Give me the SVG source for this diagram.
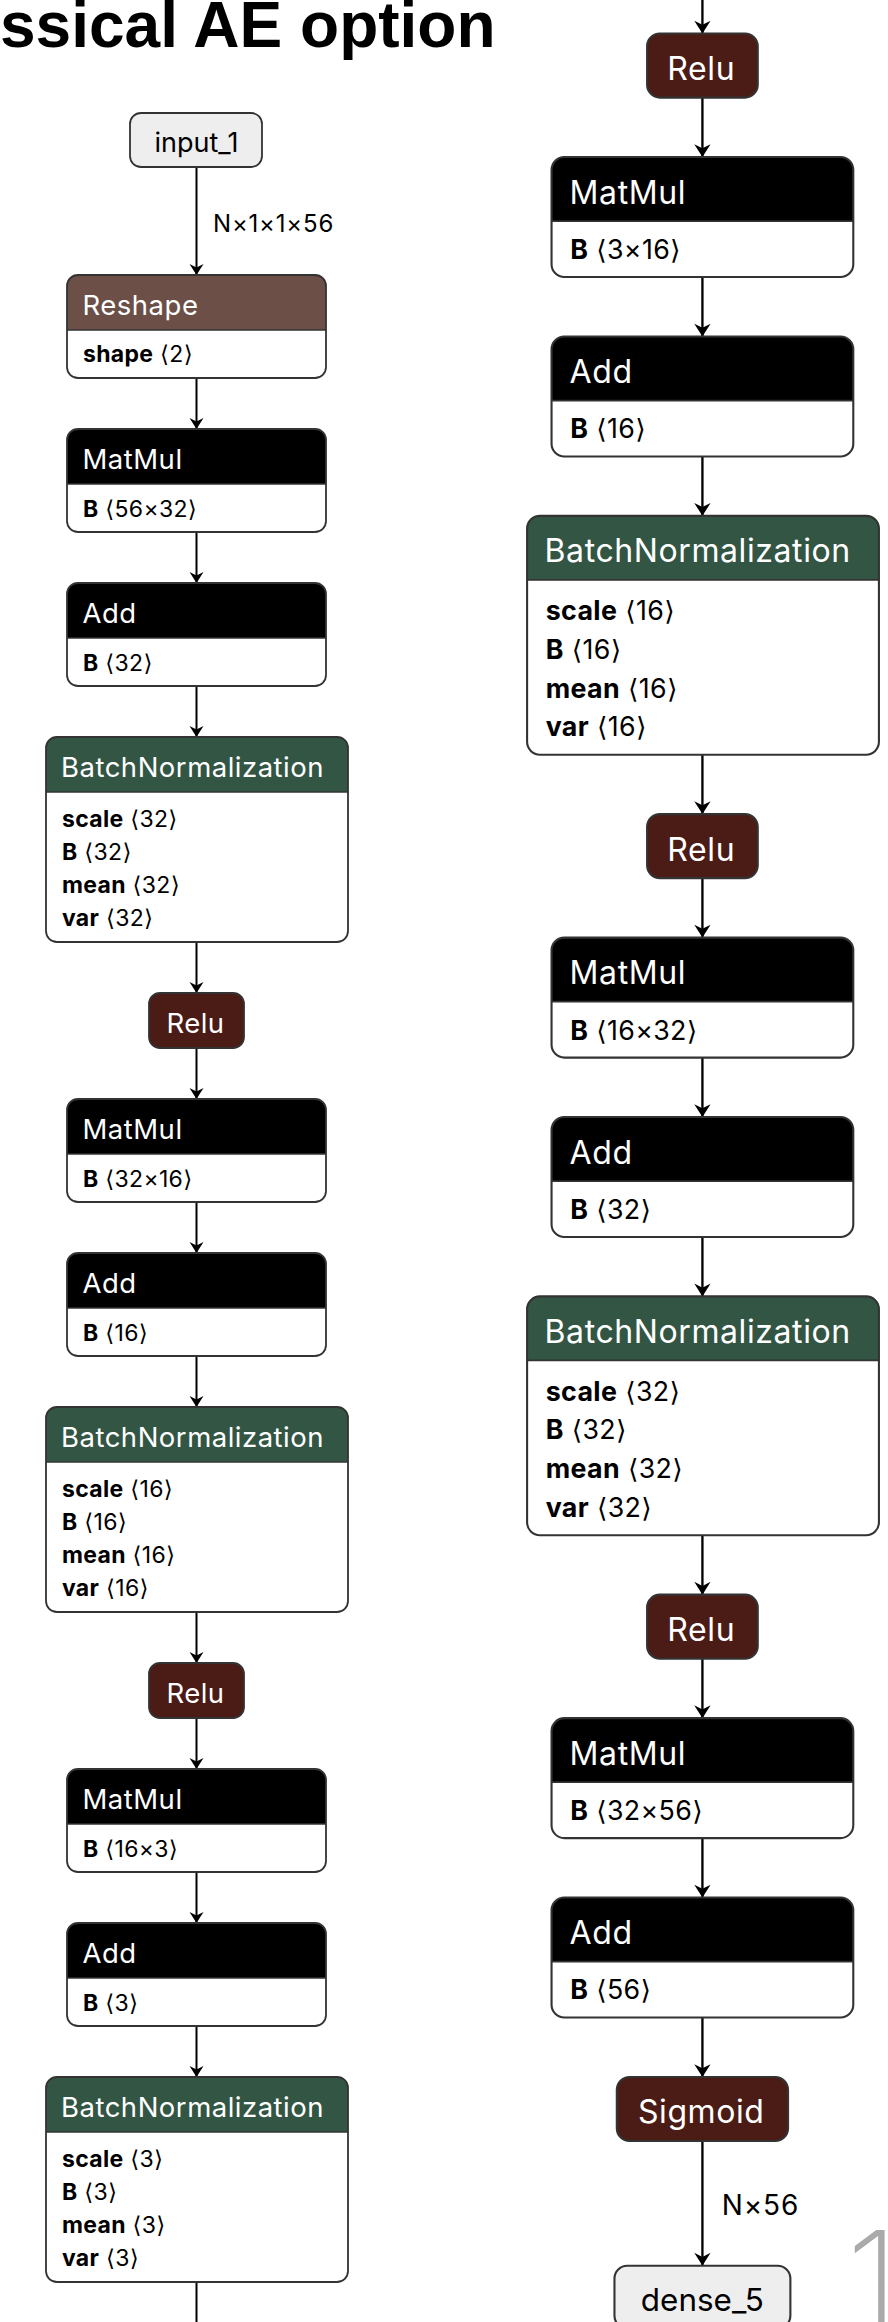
<svg xmlns="http://www.w3.org/2000/svg" width="888" height="2322" viewBox="0 0 888 2322">
<defs>
<marker id="arr" markerUnits="userSpaceOnUse" markerWidth="16" markerHeight="16" viewBox="-12 -8 14 16" refX="0" refY="0" orient="auto">
<path d="M0,0 L-11,-7 L-7.5,0 L-11,7 Z" fill="#000"/>
</marker>
</defs>
<style>
.w{fill:#fff}
.o{fill:none;stroke:#333;stroke-width:1.8}
.dv{stroke:#333;stroke-width:1.5}
.hk{fill:#000}.hg{fill:#335544}.hb{fill:#6c4f47}.hr{fill:#4b1b16}.hi{fill:#eeeeee}
.t{font-family:Inter,"DejaVu Sans",sans-serif;font-size:27.5px;letter-spacing:0.5px;fill:#fff}
.ti{font-family:Inter,"DejaVu Sans",sans-serif;font-size:27px;fill:#000}
.m{text-anchor:middle}
.b{font-family:Inter,"DejaVu Sans",sans-serif;font-size:23px;letter-spacing:0.3px;fill:#000}
.k{font-weight:700}
.e{stroke:#000;stroke-width:2;fill:none}
.ea{stroke:#000;stroke-width:2;fill:none;marker-end:url(#arr)}
.lb{font-family:Inter,"DejaVu Sans",sans-serif;font-size:24px;letter-spacing:0.8px;fill:#000}
</style>
<rect width="888" height="2322" fill="#fff"/>
<text x="0" y="47" font-family="'Liberation Sans',Arial,sans-serif" font-weight="700" font-size="64" fill="#000">ssical AE option</text>
<text x="846" y="2332" font-family="Inter,'DejaVu Sans',sans-serif" font-weight="200" font-size="140" fill="#aaa">1</text>

<g id="edges">
 <g id="edges-left">
  <line class="ea" x1="196.5" y1="167" x2="196.5" y2="275"/>
  <text class="lb" x="213" y="232">N×1×1×56</text>
  <line class="ea" x1="196.5" y1="378" x2="196.5" y2="429"/>
  <line class="ea" x1="196.5" y1="532" x2="196.5" y2="583"/>
  <line class="ea" x1="196.5" y1="686" x2="196.5" y2="737"/>
  <line class="ea" x1="196.5" y1="942" x2="196.5" y2="993"/>
  <line class="ea" x1="196.5" y1="1048" x2="196.5" y2="1099"/>
  <line class="ea" x1="196.5" y1="1202" x2="196.5" y2="1253"/>
  <line class="ea" x1="196.5" y1="1356" x2="196.5" y2="1407"/>
  <line class="ea" x1="196.5" y1="1612" x2="196.5" y2="1663"/>
  <line class="ea" x1="196.5" y1="1718" x2="196.5" y2="1769"/>
  <line class="ea" x1="196.5" y1="1872" x2="196.5" y2="1923"/>
  <line class="ea" x1="196.5" y1="2026" x2="196.5" y2="2077"/>
  <line class="e" x1="196.5" y1="2282" x2="196.5" y2="2330"/>
 </g>
 <g id="edges-right" transform="matrix(1.165 0 0 1.165 473.5 -2684.4)">
  <line class="ea" x1="196.5" y1="2290" x2="196.5" y2="2333"/>
  <line class="ea" x1="196.5" y1="2388" x2="196.5" y2="2439"/>
  <line class="ea" x1="196.5" y1="2542" x2="196.5" y2="2593"/>
  <line class="ea" x1="196.5" y1="2696" x2="196.5" y2="2747"/>
  <line class="ea" x1="196.5" y1="2952" x2="196.5" y2="3003"/>
  <line class="ea" x1="196.5" y1="3058" x2="196.5" y2="3109"/>
  <line class="ea" x1="196.5" y1="3212" x2="196.5" y2="3263"/>
  <line class="ea" x1="196.5" y1="3366" x2="196.5" y2="3417"/>
  <line class="ea" x1="196.5" y1="3622" x2="196.5" y2="3673"/>
  <line class="ea" x1="196.5" y1="3728" x2="196.5" y2="3779"/>
  <line class="ea" x1="196.5" y1="3882" x2="196.5" y2="3933"/>
  <line class="ea" x1="196.5" y1="4036" x2="196.5" y2="4087"/>
  <line class="ea" x1="196.5" y1="4142" x2="196.5" y2="4249"/>
  <text class="lb" x="213" y="4205.5">N×56</text>
 </g>
</g>

<g id="nodes-left">
 <g id="input_1">
  <rect class="hi" x="130" y="113" width="132" height="54" rx="11"/>
  <rect class="o" x="130" y="113" width="132" height="54" rx="11"/>
  <text class="ti m" x="196.5" y="152">input_1</text>
 </g>
 <g id="reshape">
  <rect class="w" x="67" y="275" width="259" height="103" rx="11"/>
  <path class="hb" d="M67,330 V286 A11,11 0 0 1 78,275 H315 A11,11 0 0 1 326,286 V330 Z"/>
  <line class="dv" x1="67" y1="330" x2="326" y2="330"/>
  <rect class="o" x="67" y="275" width="259" height="103" rx="11"/>
  <text class="t" x="82.5" y="315">Reshape</text>
  <text class="b" x="83" y="362"><tspan class="k">shape</tspan> ⟨2⟩</text>
 </g>
 <g id="matmul_1">
  <rect class="w" x="67" y="429" width="259" height="103" rx="11"/>
  <path class="hk" d="M67,484 V440 A11,11 0 0 1 78,429 H315 A11,11 0 0 1 326,440 V484 Z"/>
  <line class="dv" x1="67" y1="484" x2="326" y2="484"/>
  <rect class="o" x="67" y="429" width="259" height="103" rx="11"/>
  <text class="t" x="82.5" y="469">MatMul</text>
  <text class="b" x="83" y="516.5"><tspan class="k">B</tspan> ⟨56×32⟩</text>
 </g>
 <g id="add_1">
  <rect class="w" x="67" y="583" width="259" height="103" rx="11"/>
  <path class="hk" d="M67,638 V594 A11,11 0 0 1 78,583 H315 A11,11 0 0 1 326,594 V638 Z"/>
  <line class="dv" x1="67" y1="638" x2="326" y2="638"/>
  <rect class="o" x="67" y="583" width="259" height="103" rx="11"/>
  <text class="t" x="82.5" y="623">Add</text>
  <text class="b" x="83" y="670.5"><tspan class="k">B</tspan> ⟨32⟩</text>
 </g>
 <g id="bn_1">
  <rect class="w" x="46" y="737" width="302" height="205" rx="11"/>
  <path class="hg" d="M46,792 V748 A11,11 0 0 1 57,737 H337 A11,11 0 0 1 348,748 V792 Z"/>
  <line class="dv" x1="46" y1="792" x2="348" y2="792"/>
  <rect class="o" x="46" y="737" width="302" height="205" rx="11"/>
  <text class="t" x="61" y="777">BatchNormalization</text>
  <text class="b" x="62" y="826.5"><tspan class="k">scale</tspan> ⟨32⟩</text>
  <text class="b" x="62" y="859.5"><tspan class="k">B</tspan> ⟨32⟩</text>
  <text class="b" x="62" y="893"><tspan class="k">mean</tspan> ⟨32⟩</text>
  <text class="b" x="62" y="926"><tspan class="k">var</tspan> ⟨32⟩</text>
 </g>
 <g id="relu_1">
  <rect class="hr" x="149" y="993" width="95" height="55" rx="11"/>
  <rect class="o" x="149" y="993" width="95" height="55" rx="11"/>
  <text class="t m" x="195.5" y="1033">Relu</text>
 </g>
 <g id="matmul_2">
  <rect class="w" x="67" y="1099" width="259" height="103" rx="11"/>
  <path class="hk" d="M67,1154 V1110 A11,11 0 0 1 78,1099 H315 A11,11 0 0 1 326,1110 V1154 Z"/>
  <line class="dv" x1="67" y1="1154" x2="326" y2="1154"/>
  <rect class="o" x="67" y="1099" width="259" height="103" rx="11"/>
  <text class="t" x="82.5" y="1139">MatMul</text>
  <text class="b" x="83" y="1186.5"><tspan class="k">B</tspan> ⟨32×16⟩</text>
 </g>
 <g id="add_2">
  <rect class="w" x="67" y="1253" width="259" height="103" rx="11"/>
  <path class="hk" d="M67,1308 V1264 A11,11 0 0 1 78,1253 H315 A11,11 0 0 1 326,1264 V1308 Z"/>
  <line class="dv" x1="67" y1="1308" x2="326" y2="1308"/>
  <rect class="o" x="67" y="1253" width="259" height="103" rx="11"/>
  <text class="t" x="82.5" y="1293">Add</text>
  <text class="b" x="83" y="1340.5"><tspan class="k">B</tspan> ⟨16⟩</text>
 </g>
 <g id="bn_2">
  <rect class="w" x="46" y="1407" width="302" height="205" rx="11"/>
  <path class="hg" d="M46,1462 V1418 A11,11 0 0 1 57,1407 H337 A11,11 0 0 1 348,1418 V1462 Z"/>
  <line class="dv" x1="46" y1="1462" x2="348" y2="1462"/>
  <rect class="o" x="46" y="1407" width="302" height="205" rx="11"/>
  <text class="t" x="61" y="1447">BatchNormalization</text>
  <text class="b" x="62" y="1496.5"><tspan class="k">scale</tspan> ⟨16⟩</text>
  <text class="b" x="62" y="1529.5"><tspan class="k">B</tspan> ⟨16⟩</text>
  <text class="b" x="62" y="1563"><tspan class="k">mean</tspan> ⟨16⟩</text>
  <text class="b" x="62" y="1596"><tspan class="k">var</tspan> ⟨16⟩</text>
 </g>
 <g id="relu_2">
  <rect class="hr" x="149" y="1663" width="95" height="55" rx="11"/>
  <rect class="o" x="149" y="1663" width="95" height="55" rx="11"/>
  <text class="t m" x="195.5" y="1703">Relu</text>
 </g>
 <g id="matmul_3">
  <rect class="w" x="67" y="1769" width="259" height="103" rx="11"/>
  <path class="hk" d="M67,1824 V1780 A11,11 0 0 1 78,1769 H315 A11,11 0 0 1 326,1780 V1824 Z"/>
  <line class="dv" x1="67" y1="1824" x2="326" y2="1824"/>
  <rect class="o" x="67" y="1769" width="259" height="103" rx="11"/>
  <text class="t" x="82.5" y="1809">MatMul</text>
  <text class="b" x="83" y="1856.5"><tspan class="k">B</tspan> ⟨16×3⟩</text>
 </g>
 <g id="add_3">
  <rect class="w" x="67" y="1923" width="259" height="103" rx="11"/>
  <path class="hk" d="M67,1978 V1934 A11,11 0 0 1 78,1923 H315 A11,11 0 0 1 326,1934 V1978 Z"/>
  <line class="dv" x1="67" y1="1978" x2="326" y2="1978"/>
  <rect class="o" x="67" y="1923" width="259" height="103" rx="11"/>
  <text class="t" x="82.5" y="1963">Add</text>
  <text class="b" x="83" y="2010.5"><tspan class="k">B</tspan> ⟨3⟩</text>
 </g>
 <g id="bn_3">
  <rect class="w" x="46" y="2077" width="302" height="205" rx="11"/>
  <path class="hg" d="M46,2132 V2088 A11,11 0 0 1 57,2077 H337 A11,11 0 0 1 348,2088 V2132 Z"/>
  <line class="dv" x1="46" y1="2132" x2="348" y2="2132"/>
  <rect class="o" x="46" y="2077" width="302" height="205" rx="11"/>
  <text class="t" x="61" y="2117">BatchNormalization</text>
  <text class="b" x="62" y="2166.5"><tspan class="k">scale</tspan> ⟨3⟩</text>
  <text class="b" x="62" y="2199.5"><tspan class="k">B</tspan> ⟨3⟩</text>
  <text class="b" x="62" y="2233"><tspan class="k">mean</tspan> ⟨3⟩</text>
  <text class="b" x="62" y="2266"><tspan class="k">var</tspan> ⟨3⟩</text>
 </g>
</g>

<g id="nodes-right" transform="matrix(1.165 0 0 1.165 473.5 -2684.4)">
 <g id="relu_3">
  <rect class="hr" x="149" y="2333" width="95" height="55" rx="11"/>
  <rect class="o" x="149" y="2333" width="95" height="55" rx="11"/>
  <text class="t m" x="195.5" y="2373">Relu</text>
 </g>
 <g id="matmul_4">
  <rect class="w" x="67" y="2439" width="259" height="103" rx="11"/>
  <path class="hk" d="M67,2494 V2450 A11,11 0 0 1 78,2439 H315 A11,11 0 0 1 326,2450 V2494 Z"/>
  <line class="dv" x1="67" y1="2494" x2="326" y2="2494"/>
  <rect class="o" x="67" y="2439" width="259" height="103" rx="11"/>
  <text class="t" x="82.5" y="2479">MatMul</text>
  <text class="b" x="83" y="2526.5"><tspan class="k">B</tspan> ⟨3×16⟩</text>
 </g>
 <g id="add_4">
  <rect class="w" x="67" y="2593" width="259" height="103" rx="11"/>
  <path class="hk" d="M67,2648 V2604 A11,11 0 0 1 78,2593 H315 A11,11 0 0 1 326,2604 V2648 Z"/>
  <line class="dv" x1="67" y1="2648" x2="326" y2="2648"/>
  <rect class="o" x="67" y="2593" width="259" height="103" rx="11"/>
  <text class="t" x="82.5" y="2633">Add</text>
  <text class="b" x="83" y="2680.5"><tspan class="k">B</tspan> ⟨16⟩</text>
 </g>
 <g id="bn_4">
  <rect class="w" x="46" y="2747" width="302" height="205" rx="11"/>
  <path class="hg" d="M46,2802 V2758 A11,11 0 0 1 57,2747 H337 A11,11 0 0 1 348,2758 V2802 Z"/>
  <line class="dv" x1="46" y1="2802" x2="348" y2="2802"/>
  <rect class="o" x="46" y="2747" width="302" height="205" rx="11"/>
  <text class="t" x="61" y="2787">BatchNormalization</text>
  <text class="b" x="62" y="2836.5"><tspan class="k">scale</tspan> ⟨16⟩</text>
  <text class="b" x="62" y="2869.5"><tspan class="k">B</tspan> ⟨16⟩</text>
  <text class="b" x="62" y="2903"><tspan class="k">mean</tspan> ⟨16⟩</text>
  <text class="b" x="62" y="2936"><tspan class="k">var</tspan> ⟨16⟩</text>
 </g>
 <g id="relu_4">
  <rect class="hr" x="149" y="3003" width="95" height="55" rx="11"/>
  <rect class="o" x="149" y="3003" width="95" height="55" rx="11"/>
  <text class="t m" x="195.5" y="3043">Relu</text>
 </g>
 <g id="matmul_5">
  <rect class="w" x="67" y="3109" width="259" height="103" rx="11"/>
  <path class="hk" d="M67,3164 V3120 A11,11 0 0 1 78,3109 H315 A11,11 0 0 1 326,3120 V3164 Z"/>
  <line class="dv" x1="67" y1="3164" x2="326" y2="3164"/>
  <rect class="o" x="67" y="3109" width="259" height="103" rx="11"/>
  <text class="t" x="82.5" y="3149">MatMul</text>
  <text class="b" x="83" y="3196.5"><tspan class="k">B</tspan> ⟨16×32⟩</text>
 </g>
 <g id="add_5">
  <rect class="w" x="67" y="3263" width="259" height="103" rx="11"/>
  <path class="hk" d="M67,3318 V3274 A11,11 0 0 1 78,3263 H315 A11,11 0 0 1 326,3274 V3318 Z"/>
  <line class="dv" x1="67" y1="3318" x2="326" y2="3318"/>
  <rect class="o" x="67" y="3263" width="259" height="103" rx="11"/>
  <text class="t" x="82.5" y="3303">Add</text>
  <text class="b" x="83" y="3350.5"><tspan class="k">B</tspan> ⟨32⟩</text>
 </g>
 <g id="bn_5">
  <rect class="w" x="46" y="3417" width="302" height="205" rx="11"/>
  <path class="hg" d="M46,3472 V3428 A11,11 0 0 1 57,3417 H337 A11,11 0 0 1 348,3428 V3472 Z"/>
  <line class="dv" x1="46" y1="3472" x2="348" y2="3472"/>
  <rect class="o" x="46" y="3417" width="302" height="205" rx="11"/>
  <text class="t" x="61" y="3457">BatchNormalization</text>
  <text class="b" x="62" y="3506.5"><tspan class="k">scale</tspan> ⟨32⟩</text>
  <text class="b" x="62" y="3539.5"><tspan class="k">B</tspan> ⟨32⟩</text>
  <text class="b" x="62" y="3573"><tspan class="k">mean</tspan> ⟨32⟩</text>
  <text class="b" x="62" y="3606"><tspan class="k">var</tspan> ⟨32⟩</text>
 </g>
 <g id="relu_5">
  <rect class="hr" x="149" y="3673" width="95" height="55" rx="11"/>
  <rect class="o" x="149" y="3673" width="95" height="55" rx="11"/>
  <text class="t m" x="195.5" y="3713">Relu</text>
 </g>
 <g id="matmul_6">
  <rect class="w" x="67" y="3779" width="259" height="103" rx="11"/>
  <path class="hk" d="M67,3834 V3790 A11,11 0 0 1 78,3779 H315 A11,11 0 0 1 326,3790 V3834 Z"/>
  <line class="dv" x1="67" y1="3834" x2="326" y2="3834"/>
  <rect class="o" x="67" y="3779" width="259" height="103" rx="11"/>
  <text class="t" x="82.5" y="3819">MatMul</text>
  <text class="b" x="83" y="3866.5"><tspan class="k">B</tspan> ⟨32×56⟩</text>
 </g>
 <g id="add_6">
  <rect class="w" x="67" y="3933" width="259" height="103" rx="11"/>
  <path class="hk" d="M67,3988 V3944 A11,11 0 0 1 78,3933 H315 A11,11 0 0 1 326,3944 V3988 Z"/>
  <line class="dv" x1="67" y1="3988" x2="326" y2="3988"/>
  <rect class="o" x="67" y="3933" width="259" height="103" rx="11"/>
  <text class="t" x="82.5" y="3973">Add</text>
  <text class="b" x="83" y="4020.5"><tspan class="k">B</tspan> ⟨56⟩</text>
 </g>
 <g id="sigmoid">
  <rect class="hr" x="123" y="4087" width="147" height="55" rx="11"/>
  <rect class="o" x="123" y="4087" width="147" height="55" rx="11"/>
  <text class="t m" x="195.5" y="4126.5">Sigmoid</text>
 </g>
 <g id="dense_5">
  <rect class="hi" x="121" y="4249" width="151" height="54" rx="11"/>
  <rect class="o" x="121" y="4249" width="151" height="54" rx="11"/>
  <text class="ti m" x="196.5" y="4288">dense_5</text>
 </g>
</g>
</svg>
